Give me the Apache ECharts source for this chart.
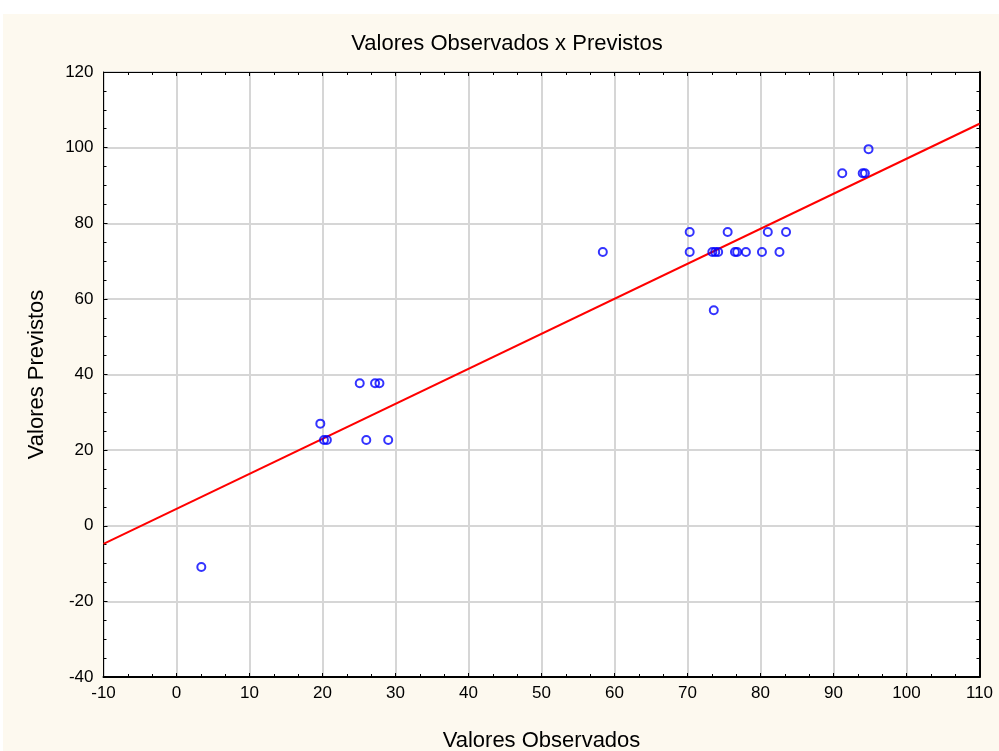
<!DOCTYPE html>
<html>
<head>
<meta charset="utf-8">
<script src="https://cdn.jsdelivr.net/npm/echarts@6/dist/echarts.min.js"></script>
<style>
  html, body { margin: 0; padding: 0; background: #ffffff; }
  #frame { position: absolute; left: 3px; top: 14px; width: 996px; height: 737px; background: #fdf9ef; }
  #chart { width: 996px; height: 737px; }
</style>
</head>
<body>
<div id="frame"><div id="chart"></div></div>
<script>
// Observed vs predicted values
const observed = [3.4, 19.7, 20.2, 20.6, 26.0, 29.0, 25.1, 27.2, 27.8, 58.4,
  70.3, 70.3, 73.4, 73.8, 74.2, 73.6, 75.5, 76.5, 76.8, 78.0,
  80.2, 81.0, 82.6, 83.5, 91.2, 94.0, 94.3, 94.8];
const predicted = [-10.9, 27.0, 22.7, 22.7, 22.7, 22.7, 37.7, 37.7, 37.7, 72.4,
  77.7, 72.4, 72.4, 72.4, 72.4, 57.0, 77.7, 72.4, 72.4, 72.4,
  72.4, 77.7, 72.4, 77.7, 93.2, 93.2, 93.2, 99.6];

// Fitted line: predicted = intercept + slope * observed
const fitCoef = [4.45, 0.926];
const fitRange = [-10, 110];

const xTicks = [-10, 0, 10, 20, 30, 40, 50, 60, 70, 80, 90, 100, 110];
const yTicks = [-40, -20, 0, 20, 40, 60, 80, 100, 120];

const FONT = 'Liberation Sans, Arial, sans-serif';
const points = observed.map((v, i) => [v, predicted[i]]);
const fitLine = fitRange.map(x => [x, fitCoef[0] + fitCoef[1] * x]);

const chart = echarts.init(document.getElementById('chart'));

const baseX = {
  type: 'value',
  min: xTicks[0], max: xTicks[xTicks.length - 1], interval: 10,
};
const baseY = {
  type: 'value',
  min: yTicks[0], max: yTicks[yTicks.length - 1], interval: 20,
};

chart.setOption({
  backgroundColor: 'transparent',
  animation: false,
  grid: {
    left: 100.5, top: 58, width: 876, height: 605,
    outerBoundsMode: 'none', containLabel: false,
    backgroundColor: '#ffffff', show: true, borderWidth: 0
  },
  graphic: [{
    type: 'text', x: 504, y: 30,
    style: { text: 'Valores Observados x Previstos', font: '22px ' + FONT, fill: '#000', textAlign: 'center', textVerticalAlign: 'middle' }
  }],
  xAxis: [
    Object.assign({}, baseX, {
      position: 'bottom',
      name: 'Valores Observados', nameLocation: 'middle', nameGap: 53,
      nameTextStyle: { fontFamily: FONT, fontSize: 22, color: '#000' },
      axisLine: { show: true, onZero: false, lineStyle: { color: '#000', width: 2 } },
      axisTick: { show: true, inside: true, length: 4, lineStyle: { color: '#000' } },
      minorTick: { show: true, splitNumber: 3, length: 3, lineStyle: { color: '#000' } },
      axisLabel: { fontFamily: FONT, fontSize: 17, color: '#000', margin: 8 },
      splitLine: { show: true, lineStyle: { color: '#d6d6d6', width: 2 } }
    }),
    Object.assign({}, baseX, {
      position: 'top',
      axisLine: { show: true, onZero: false, lineStyle: { color: '#000', width: 1 } },
      axisTick: { show: true, inside: true, length: 4, lineStyle: { color: '#000' } },
      minorTick: { show: true, splitNumber: 3, length: 3, lineStyle: { color: '#000' } },
      axisLabel: { show: false },
      splitLine: { show: false }
    })
  ],
  yAxis: [
    Object.assign({}, baseY, {
      position: 'left',
      name: 'Valores Previstos', nameLocation: 'middle', nameGap: 56,
      nameTextStyle: { fontFamily: FONT, fontSize: 22, color: '#000' },
      axisLine: { show: true, onZero: false, lineStyle: { color: '#000', width: 1 } },
      axisTick: { show: true, inside: true, length: 4, lineStyle: { color: '#000' } },
      minorTick: { show: true, splitNumber: 4, length: 3, lineStyle: { color: '#000' } },
      axisLabel: { fontFamily: FONT, fontSize: 17, color: '#000', margin: 10 },
      splitLine: { show: true, lineStyle: { color: '#d6d6d6', width: 2 } }
    }),
    Object.assign({}, baseY, {
      position: 'right',
      axisLine: { show: true, onZero: false, lineStyle: { color: '#000', width: 2 } },
      axisTick: { show: true, inside: true, length: 4, lineStyle: { color: '#000' } },
      minorTick: { show: true, splitNumber: 4, length: 3, lineStyle: { color: '#000' } },
      axisLabel: { show: false },
      splitLine: { show: false }
    })
  ],
  series: [
    {
      type: 'line', data: fitLine, xAxisIndex: 0, yAxisIndex: 0,
      symbol: 'none', lineStyle: { color: '#ff0000', width: 2 }, z: 3
    },
    {
      type: 'scatter', data: points, xAxisIndex: 0, yAxisIndex: 0,
      symbol: 'circle', symbolSize: 8,
      itemStyle: { color: 'rgba(255,255,255,0)', borderColor: '#0000ff', borderWidth: 2 }, z: 4
    }
  ]
});
</script>
</body>
</html>
